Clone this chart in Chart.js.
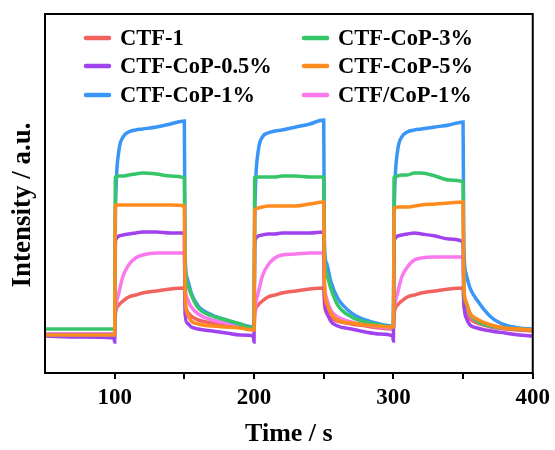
<!DOCTYPE html>
<html>
<head>
<meta charset="utf-8">
<script src="https://cdn.jsdelivr.net/npm/chart.js@4/dist/chart.umd.min.js"></script>
<style>
html,body{margin:0;padding:0;background:#fff;}
#wrap{width:555px;height:450px;position:relative;}
</style>
</head>
<body>
<div id="wrap"><canvas id="c" width="555" height="450"></canvas></div>
<script>
// Time axis (s)
const times = [50, 75, 99.5, 100, 100.5, 101, 103, 106, 110, 115, 120, 130, 140, 150, 150.5, 152, 155, 160, 170, 180, 190, 199.5,
  200, 200.5, 201, 203, 206, 210, 215, 220, 230, 240, 250, 250.5, 252, 255, 260, 270, 280, 290, 299.5,
  300, 300.5, 301, 303, 306, 310, 315, 320, 330, 340, 350, 350.5, 352, 355, 360, 370, 380, 390, 400];

const xTickLabels = [100, 200, 300, 400];

// Intensity (a.u.) per sample
const ctf1 = [39, 39, 39,
  39, 58, 63, 68, 72, 76, 78, 80, 82, 84, 85,
  70, 62, 57, 53, 50, 48, 46, 45,
  45, 58, 63, 68, 72, 76, 78, 80, 82, 84, 85,
  70, 60, 55, 52, 49, 47, 45, 44,
  44, 58, 63, 68, 72, 76, 78, 80, 82, 84, 85,
  70, 60, 54, 50, 46, 44, 43, 42];

const ctfCoP05 = [37, 36, 35,
  31, 128, 134, 137, 138, 139, 140, 141, 141, 140, 140,
  60, 50, 46, 44, 42, 40, 38, 37,
  31, 128, 134, 137, 138, 139, 139, 140, 140, 140, 141,
  80, 62, 52, 47, 44, 41, 39, 37,
  32, 128, 134, 137, 138, 139, 140, 139, 137, 134, 131,
  75, 56, 48, 45, 42, 40, 38, 37];

const ctfCoP1 = [38, 38, 38,
  38, 150, 185, 222, 236, 241, 243, 244, 246, 249, 252,
  120, 95, 80, 67, 58, 53, 49, 46,
  46, 150, 185, 222, 236, 240, 242, 243, 246, 249, 253,
  130, 110, 92, 75, 60, 53, 49, 47,
  47, 150, 185, 222, 236, 241, 243, 244, 246, 248, 251,
  130, 100, 85, 73, 56, 48, 45, 44];

const ctfCoP3 = [44, 44, 44,
  44, 196, 196, 197, 197, 198, 199, 200, 199, 197, 195,
  110, 90, 78, 65, 57, 53, 49, 45,
  45, 196, 196, 196, 196, 196, 196, 197, 197, 196, 196,
  120, 100, 85, 68, 56, 51, 48, 46,
  46, 196, 196, 197, 198, 198, 200, 200, 197, 193, 191,
  85, 70, 59, 52, 47, 45, 44, 43];

const ctfCoP5 = [38, 38, 38,
  38, 168, 168, 168, 168, 168, 168, 168, 168, 168, 167,
  80, 60, 52, 49, 47, 46, 45, 43,
  43, 163, 164, 165, 166, 167, 167, 167, 167, 169, 171,
  90, 70, 60, 53, 50, 48, 47, 46,
  46, 165, 165, 166, 166, 166, 167, 168, 169, 170, 171,
  90, 72, 60, 54, 48, 45, 44, 43];

const ctfSlashCoP1 = [39, 39, 39,
  39, 60, 68, 80, 97, 108, 115, 118, 120, 120, 120,
  90, 75, 66, 59, 53, 50, 48, 46,
  46, 60, 68, 80, 97, 108, 115, 118, 119, 120, 120,
  90, 75, 63, 56, 51, 48, 46, 45,
  45, 60, 68, 80, 96, 106, 113, 115, 116, 116, 116,
  85, 70, 58, 52, 47, 45, 44, 43];

const seriesNames = ['CTF-1', 'CTF-CoP-0.5%', 'CTF-CoP-1%', 'CTF-CoP-3%', 'CTF-CoP-5%', 'CTF/CoP-1%'];
const seriesData = [ctf1, ctfCoP05, ctfCoP1, ctfCoP3, ctfCoP5, ctfSlashCoP1];
const seriesColors = ['#f2625f', '#a043ee', '#3a96f6', '#37c56a', '#ff8b1e', '#fb79ec'];
// drawing order (lower = on top)
const seriesOrder = [5, 3, 2, 1, 0, 4];

const FONT = '"Liberation Serif", "Times New Roman", serif';

const datasets = seriesNames.map((name, i) => ({
  label: name,
  data: times.map((t, k) => ({x: t, y: seriesData[i][k]})),
  borderColor: seriesColors[i],
  backgroundColor: seriesColors[i],
  borderWidth: 3.5,
  pointRadius: 0,
  fill: false,
  cubicInterpolationMode: 'monotone',
  order: seriesOrder[i]
}));

const framePlugin = {
  id: 'frame',
  afterDraw(chart) {
    const {ctx, chartArea: a} = chart;
    ctx.save();
    ctx.strokeStyle = '#000';
    ctx.lineWidth = 2;
    ctx.strokeRect(a.left, a.top, a.right - a.left, a.bottom - a.top);
    // y-axis title
    ctx.save();
    ctx.translate(23, 205);
    ctx.rotate(-Math.PI / 2);
    ctx.font = 'bold 27px ' + FONT;
    ctx.fillStyle = '#000';
    ctx.textAlign = 'center';
    ctx.textBaseline = 'middle';
    ctx.fillText('Intensity / a.u.', 0, 0);
    ctx.restore();
    // legend (two columns)
    const legendLayout = [
      {i: 0, col: 0, row: 0}, {i: 3, col: 1, row: 0},
      {i: 1, col: 0, row: 1}, {i: 4, col: 1, row: 1},
      {i: 2, col: 0, row: 2}, {i: 5, col: 1, row: 2}
    ];
    const colX = [86, 304];
    const rowY = [38, 66, 95];
    ctx.font = 'bold 22.5px ' + FONT;
    ctx.textBaseline = 'middle';
    ctx.textAlign = 'left';
    legendLayout.forEach(it => {
      const x = colX[it.col], y = rowY[it.row];
      ctx.strokeStyle = seriesColors[it.i];
      ctx.lineWidth = 4.5;
      ctx.lineCap = 'round';
      ctx.beginPath();
      ctx.moveTo(x, y);
      ctx.lineTo(x + 23, y);
      ctx.stroke();
      ctx.fillStyle = '#000';
      ctx.fillText(seriesNames[it.i], x + 34, y + 1);
    });
    ctx.restore();
  }
};

new Chart(document.getElementById('c'), {
  type: 'line',
  data: {datasets},
  options: {
    responsive: false,
    animation: false,
    layout: {padding: {left: 0, right: 22, top: 14, bottom: 0}},
    plugins: {legend: {display: false}, tooltip: {enabled: false}},
    scales: {
      x: {
        type: 'linear',
        min: 50, max: 400,
        afterFit(s) { s.height = 77; },
        afterBuildTicks(s) { s.ticks = [100, 150, 200, 250, 300, 350, 400].map(v => ({value: v})); },
        ticks: {
          autoSkip: false,
          maxRotation: 0,
          padding: 5,
          color: '#000',
          font: {family: FONT, size: 23, weight: 'bold'},
          callback: v => (xTickLabels.includes(v) ? String(v) : '')
        },
        grid: {display: true, drawOnChartArea: false, drawTicks: true, tickLength: 6, color: '#000', lineWidth: 2},
        border: {display: false},
        title: {display: true, text: 'Time / s', color: '#000', font: {family: FONT, size: 26, weight: 'bold'}, padding: {top: 0, bottom: 0}}
      },
      y: {
        min: 0, max: 359,
        afterFit(s) { s.width = 45; },
        ticks: {display: false},
        grid: {display: false},
        border: {display: false},
        title: {display: false}
      }
    }
  },
  plugins: [framePlugin]
});
</script>
</body>
</html>
